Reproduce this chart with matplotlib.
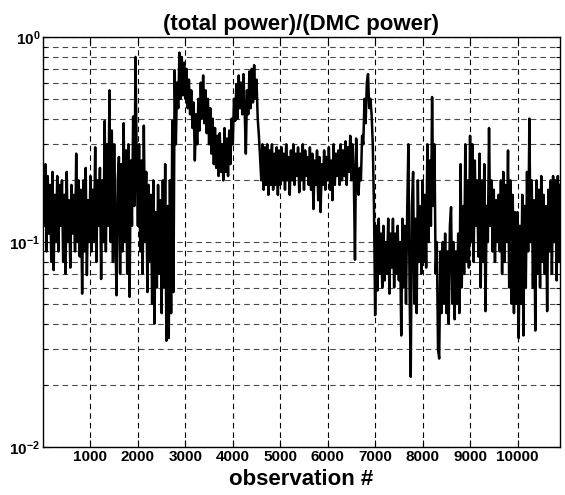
import matplotlib
matplotlib.use("Agg")
import numpy as np
import matplotlib.pyplot as plt
from matplotlib.ticker import FixedLocator, FixedFormatter, NullFormatter

plt.rcParams['font.family'] = 'Liberation Sans'
plt.rcParams['font.weight'] = 'bold'
plt.rcParams['mathtext.fontset'] = 'custom'
plt.rcParams['mathtext.rm'] = 'Liberation Sans:bold'
plt.rcParams['mathtext.bf'] = 'Liberation Sans:bold'

step = 25
block_0 = [0.20, 0.12, 0.24, 0.09, 0.21, 0.11, 0.19, 0.08, 0.22, 0.073,
           0.17, 0.10, 0.21, 0.09, 0.19, 0.12, 0.20, 0.08, 0.17, 0.07,
           0.22, 0.10, 0.16, 0.075, 0.19, 0.11, 0.17, 0.09, 0.27, 0.10,
           0.20, 0.085, 0.18, 0.056, 0.20, 0.09, 0.23, 0.069, 0.16, 0.10]
block_1 = [0.21, 0.09, 0.18, 0.10, 0.29, 0.08, 0.20, 0.12, 0.23, 0.066,
           0.20, 0.10, 0.39, 0.09, 0.30, 0.12, 0.55, 0.10, 0.35, 0.08,
           0.30, 0.11, 0.055, 0.20, 0.26, 0.07, 0.24, 0.09, 0.38, 0.10,
           0.28, 0.07, 0.30, 0.054, 0.25, 0.12, 0.41, 0.15, 0.80, 0.25]
block_2 = [0.12, 0.30, 0.09, 0.25, 0.07, 0.37, 0.10, 0.22, 0.057, 0.19,
           0.08, 0.17, 0.05, 0.20, 0.04, 0.14, 0.06, 0.19, 0.07, 0.16,
           0.045, 0.20, 0.06, 0.24, 0.033, 0.15, 0.034, 0.20, 0.045, 0.39,
           0.057, 0.69, 0.30, 0.60, 0.45, 0.84, 0.50, 0.80, 0.52, 0.75]
block_3 = [0.50, 0.70, 0.45, 0.62, 0.42, 0.55, 0.36, 0.48, 0.25, 0.42,
           0.30, 0.50, 0.35, 0.60, 0.40, 0.65, 0.38, 0.55, 0.34, 0.50,
           0.30, 0.45, 0.27, 0.40, 0.24, 0.36, 0.23, 0.33, 0.21, 0.34,
           0.22, 0.30, 0.20, 0.36, 0.22, 0.32, 0.21, 0.35, 0.24, 0.40]
block_4 = [0.30, 0.50, 0.39, 0.59, 0.40, 0.65, 0.45, 0.60, 0.42, 0.66,
           0.44, 0.27, 0.55, 0.42, 0.68, 0.45, 0.70, 0.48, 0.73, 0.50,
           0.62, 0.40, 0.33, 0.26, 0.20, 0.30, 0.18, 0.29, 0.19, 0.30,
           0.17, 0.28, 0.19, 0.30, 0.18, 0.27, 0.19, 0.29, 0.17, 0.28]
block_5 = [0.19, 0.29, 0.20, 0.27, 0.18, 0.30, 0.20, 0.26, 0.17, 0.28,
           0.20, 0.30, 0.19, 0.27, 0.21, 0.29, 0.175, 0.27, 0.20, 0.30,
           0.18, 0.28, 0.21, 0.26, 0.19, 0.29, 0.18, 0.27, 0.145, 0.25,
           0.19, 0.28, 0.16, 0.26, 0.14, 0.24, 0.19, 0.28, 0.18, 0.26]
block_6 = [0.20, 0.29, 0.18, 0.25, 0.16, 0.30, 0.19, 0.27, 0.21, 0.28,
           0.19, 0.30, 0.20, 0.28, 0.21, 0.31, 0.19, 0.29, 0.22, 0.33,
           0.20, 0.30, 0.21, 0.082, 0.32, 0.20, 0.17, 0.23, 0.20, 0.33,
           0.30, 0.50, 0.38, 0.60, 0.66, 0.45, 0.50, 0.42, 0.30, 0.15]
block_7 = [0.044, 0.12, 0.058, 0.13, 0.07, 0.11, 0.06, 0.12, 0.065, 0.10,
           0.07, 0.13, 0.056, 0.11, 0.075, 0.13, 0.06, 0.11, 0.07, 0.12,
           0.065, 0.10, 0.035, 0.13, 0.06, 0.12, 0.05, 0.14, 0.30, 0.06,
           0.022, 0.15, 0.22, 0.05, 0.13, 0.045, 0.20, 0.08, 0.15, 0.07]
block_8 = [0.20, 0.08, 0.17, 0.075, 0.30, 0.10, 0.25, 0.12, 0.51, 0.15,
           0.30, 0.07, 0.10, 0.03, 0.027, 0.09, 0.045, 0.10, 0.05, 0.11,
           0.045, 0.09, 0.04, 0.12, 0.148, 0.05, 0.10, 0.042, 0.09, 0.05,
           0.11, 0.045, 0.24, 0.06, 0.15, 0.07, 0.30, 0.08, 0.20, 0.075]
block_9 = [0.33, 0.10, 0.30, 0.08, 0.25, 0.12, 0.20, 0.085, 0.27, 0.06,
           0.20, 0.08, 0.24, 0.046, 0.15, 0.10, 0.36, 0.12, 0.20, 0.09,
           0.18, 0.08, 0.16, 0.10, 0.17, 0.09, 0.20, 0.07, 0.22, 0.08,
           0.19, 0.10, 0.28, 0.06, 0.20, 0.05, 0.17, 0.045, 0.14, 0.05]
block_10 = [0.14, 0.034, 0.12, 0.05, 0.17, 0.035, 0.15, 0.06, 0.22, 0.09,
            0.40, 0.10, 0.20, 0.06, 0.16, 0.037, 0.20, 0.07, 0.18, 0.06,
            0.21, 0.08, 0.17, 0.07, 0.15, 0.046, 0.18, 0.09, 0.20, 0.07,
            0.21, 0.10, 0.20, 0.065, 0.21, 0.08, 0.19]

ratio = np.array(block_0 + block_1 + block_2 + block_3 + block_4 + block_5
                 + block_6 + block_7 + block_8 + block_9 + block_10)
obs = np.arange(len(ratio)) * step

xticks = [1000, 2000, 3000, 4000, 5000, 6000, 7000, 8000, 9000, 10000]
yticks = [1e-2, 1e-1, 1e0]
ytick_labels = [r'$\mathbf{10^{-2}}$', r'$\mathbf{10^{-1}}$', r'$\mathbf{10^{0}}$']

fig = plt.figure(figsize=(5.65, 4.95), dpi=100)
ax = fig.add_axes([0.0761, 0.097, 0.915, 0.828])

ax.semilogy(obs, ratio, color='black', lw=1.8)

ax.set_xlim(0, 10895)
ax.set_ylim(1e-2, 1e0)

ax.xaxis.set_major_locator(FixedLocator(xticks))
ax.set_xticklabels([str(t) for t in xticks])
ax.yaxis.set_major_locator(FixedLocator(yticks))
ax.yaxis.set_major_formatter(FixedFormatter(ytick_labels))
ax.yaxis.set_minor_formatter(NullFormatter())

dash = (0, (5, 3.6))
ax.grid(True, axis='x', which='major', color='black', lw=0.8, linestyle=dash)
ax.grid(True, axis='y', which='both', color='#4a4a4a', lw=0.8, linestyle=dash)

ax.tick_params(which='both', direction='in', top=True, right=True,
               labelsize=11, width=0.8, pad=2)
ax.tick_params(which='major', length=5)
ax.tick_params(which='minor', length=3)
for s in ax.spines.values():
    s.set_linewidth(1.0)

ax.set_title('(total power)/(DMC power)', fontsize=16, fontweight='bold', pad=5)
ax.set_xlabel('observation #', fontsize=16, fontweight='bold', labelpad=4)

fig.savefig('out.png', dpi=100)
